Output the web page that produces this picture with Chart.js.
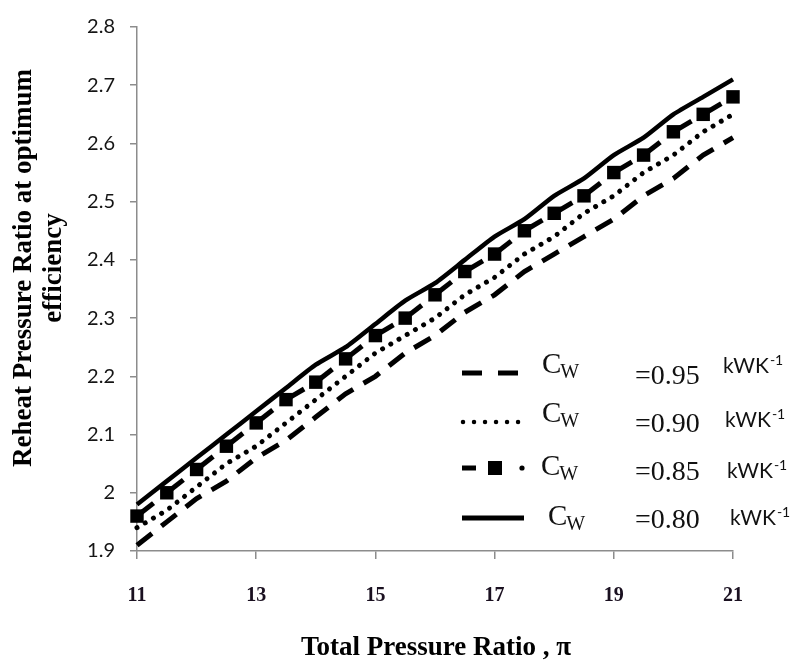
<!DOCTYPE html>
<html>
<head>
<meta charset="utf-8">
<script src="https://cdn.jsdelivr.net/npm/chart.js@4.4.0/dist/chart.umd.min.js"></script>
<style>
  html, body { margin: 0; padding: 0; background: #fff; }
  #wrap { width: 792px; height: 664px; position: relative; }
</style>
</head>
<body>
<div id="wrap"><canvas id="chart"></canvas></div>
<script>
// Total pressure ratio (x) and reheat pressure ratio at optimum efficiency (y)
const pressureRatio = [11, 11.5, 12, 12.5, 13, 13.5, 14, 14.5, 15, 15.5, 16, 16.5, 17, 17.5, 18, 18.5, 19, 19.5, 20, 20.5, 21];
const reheatCw095 = [1.91, 1.95, 1.99, 2.02, 2.06, 2.09, 2.13, 2.17, 2.20, 2.24, 2.27, 2.31, 2.34, 2.38, 2.41, 2.44, 2.47, 2.51, 2.54, 2.58, 2.61];
const reheatCw090 = [1.94, 1.97, 2.01, 2.05, 2.08, 2.12, 2.16, 2.20, 2.24, 2.27, 2.30, 2.34, 2.37, 2.41, 2.44, 2.48, 2.51, 2.55, 2.58, 2.62, 2.65];
const reheatCw085 = [1.96, 2.00, 2.04, 2.08, 2.12, 2.16, 2.19, 2.23, 2.27, 2.30, 2.34, 2.38, 2.41, 2.45, 2.48, 2.51, 2.55, 2.58, 2.62, 2.65, 2.68];
const reheatCw080 = [1.98, 2.02, 2.06, 2.10, 2.14, 2.18, 2.22, 2.25, 2.29, 2.33, 2.36, 2.40, 2.44, 2.47, 2.51, 2.54, 2.58, 2.61, 2.65, 2.68, 2.71];
const cwLabels = ['0.95', '0.90', '0.85', '0.80'];
const xTickValues = [11, 13, 15, 17, 19, 21];
const yTickValues = [1.9, 2.0, 2.1, 2.2, 2.3, 2.4, 2.5, 2.6, 2.7, 2.8];

const SERIF = '"Liberation Serif", "Times New Roman", serif';
const SANS = 'Lato, "Liberation Sans", sans-serif';

const toPoints = ys => pressureRatio.map((x, i) => ({ x, y: ys[i] }));

// Legend with subscripted C_W and superscripted unit, drawn onto the canvas
const cwLegend = {
  id: 'cwLegend',
  afterDraw(chart, args, opts) {
    const ctx = chart.ctx;
    ctx.save();
    opts.rows.forEach((r, i) => {
      // line sample
      ctx.strokeStyle = '#000';
      ctx.fillStyle = '#000';
      ctx.lineWidth = 5;
      ctx.setLineDash([]);
      ctx.lineCap = 'butt';
      if (r.kind === 'dash') {
        ctx.setLineDash([20, 16]);
        ctx.beginPath(); ctx.moveTo(462, r.y); ctx.lineTo(518, r.y); ctx.stroke();
      } else if (r.kind === 'dot') {
        ctx.lineCap = 'round';
        ctx.lineWidth = 4.5;
        ctx.setLineDash([0.01, 11]);
        ctx.beginPath(); ctx.moveTo(463, r.y); ctx.lineTo(519, r.y); ctx.stroke();
      } else if (r.kind === 'square') {
        ctx.beginPath(); ctx.moveTo(462, r.y); ctx.lineTo(476, r.y); ctx.stroke();
        ctx.fillRect(488, r.y - 7, 14, 14);
        ctx.beginPath(); ctx.arc(522, r.y, 2.6, 0, Math.PI * 2); ctx.fill();
      } else {
        ctx.beginPath(); ctx.moveTo(462, r.y); ctx.lineTo(524, r.y); ctx.stroke();
      }
      ctx.setLineDash([]);
      // C_W
      ctx.fillStyle = '#111';
      ctx.textBaseline = 'alphabetic';
      ctx.textAlign = 'left';
      ctx.font = '29px ' + SERIF;
      ctx.fillText('C', r.cx, r.cBase);
      const cw = ctx.measureText('C').width;
      ctx.font = '20px ' + SERIF;
      ctx.fillText('W', r.cx + cw - 1, r.cBase + 5);
      // value
      ctx.font = '28px ' + SERIF;
      ctx.fillText('=' + cwLabels[i], 635, r.eqBase);
      // unit kWK^-1
      ctx.font = '21px ' + SANS;
      ctx.fillText('kWK', r.kx, r.kBase);
      const kw = ctx.measureText('kWK').width;
      ctx.font = '14px ' + SANS;
      ctx.fillText('-1', r.kx + kw + 1, r.kBase - 8);
    });
    ctx.restore();
  }
};

// Axis titles
const axisTitles = {
  id: 'axisTitles',
  afterDraw(chart) {
    const ctx = chart.ctx;
    ctx.save();
    ctx.fillStyle = '#000';
    ctx.font = 'bold 27px ' + SERIF;
    ctx.textAlign = 'center';
    ctx.textBaseline = 'alphabetic';
    ctx.fillText('Total Pressure Ratio , \u03c0', 436, 655);
    ctx.translate(0, 268);
    ctx.rotate(-Math.PI / 2);
    ctx.textBaseline = 'middle';
    ctx.fillText('Reheat Pressure Ratio at optimum', 0, 24);
    ctx.fillText('efficiency', 0, 54);
    ctx.restore();
  }
};

const axisColor = '#8c8c8c';

new Chart(document.getElementById('chart'), {
  type: 'line',
  data: {
    datasets: [
      {
        label: 'Cw=0.95',
        data: toPoints(reheatCw095),
        borderColor: '#000',
        borderWidth: 5,
        borderDash: [19, 12],
        pointRadius: 0,
        tension: 0
      },
      {
        label: 'Cw=0.90',
        data: toPoints(reheatCw090),
        borderColor: '#000',
        borderWidth: 5,
        borderDash: [0.01, 9.5],
        borderCapStyle: 'round',
        pointRadius: 0,
        tension: 0
      },
      {
        label: 'Cw=0.85',
        data: toPoints(reheatCw085),
        borderColor: '#000',
        borderWidth: 5,
        borderDash: [21, 40],
        // restart the dash at every point so each marker carries a short tail
        segment: { borderDashOffset: c => (c.p0DataIndex % 2) * 0.001 },
        pointStyle: 'rect',
        pointRadius: 9.5,
        pointBackgroundColor: '#000',
        pointBorderWidth: 0,
        tension: 0
      },
      {
        label: 'Cw=0.80',
        data: toPoints(reheatCw080),
        borderColor: '#000',
        borderWidth: 4.5,
        pointRadius: 0,
        tension: 0.2
      }
    ]
  },
  options: {
    responsive: true,
    maintainAspectRatio: false,
    animation: false,
    clip: false,
    layout: { padding: { left: 0, top: 19, right: 59, bottom: 0 } },
    plugins: {
      legend: { display: false },
      tooltip: { enabled: false },
      cwLegend: {
        rows: [
          { kind: 'dash', y: 373, cx: 542, cBase: 373, eqBase: 384, kx: 723, kBase: 373 },
          { kind: 'dot', y: 422, cx: 542, cBase: 422, eqBase: 432, kx: 725, kBase: 427 },
          { kind: 'square', y: 468, cx: 541, cBase: 475, eqBase: 480, kx: 727, kBase: 478 },
          { kind: 'solid', y: 518, cx: 548, cBase: 525, eqBase: 528, kx: 730, kBase: 525 }
        ]
      }
    },
    scales: {
      x: {
        type: 'linear',
        min: 11,
        max: 21,
        afterFit: s => { s.height = 113; },
        afterBuildTicks: s => { s.ticks = xTickValues.map(v => ({ value: v })); },
        grid: { drawOnChartArea: false, drawTicks: true, tickLength: 8, color: axisColor, lineWidth: 1.5 },
        border: { display: true, color: axisColor, width: 1.5 },
        ticks: {
          padding: 25,
          color: '#1a1020',
          font: { family: SERIF, size: 20, weight: 'bold' },
          callback: v => String(v)
        }
      },
      y: {
        type: 'linear',
        min: 1.9,
        max: 2.8,
        afterFit: s => { s.width = 137; },
        afterBuildTicks: s => { s.ticks = yTickValues.map(v => ({ value: v })); },
        grid: { drawOnChartArea: false, drawTicks: true, tickLength: 7, color: axisColor, lineWidth: 1.5 },
        border: { display: true, color: axisColor, width: 1.5 },
        ticks: {
          padding: 15,
          color: '#151515',
          font: { family: SANS, size: 20 },
          callback: v => String(Number(v.toFixed(1)))
        }
      }
    }
  },
  plugins: [cwLegend, axisTitles]
});
</script>
</body>
</html>
